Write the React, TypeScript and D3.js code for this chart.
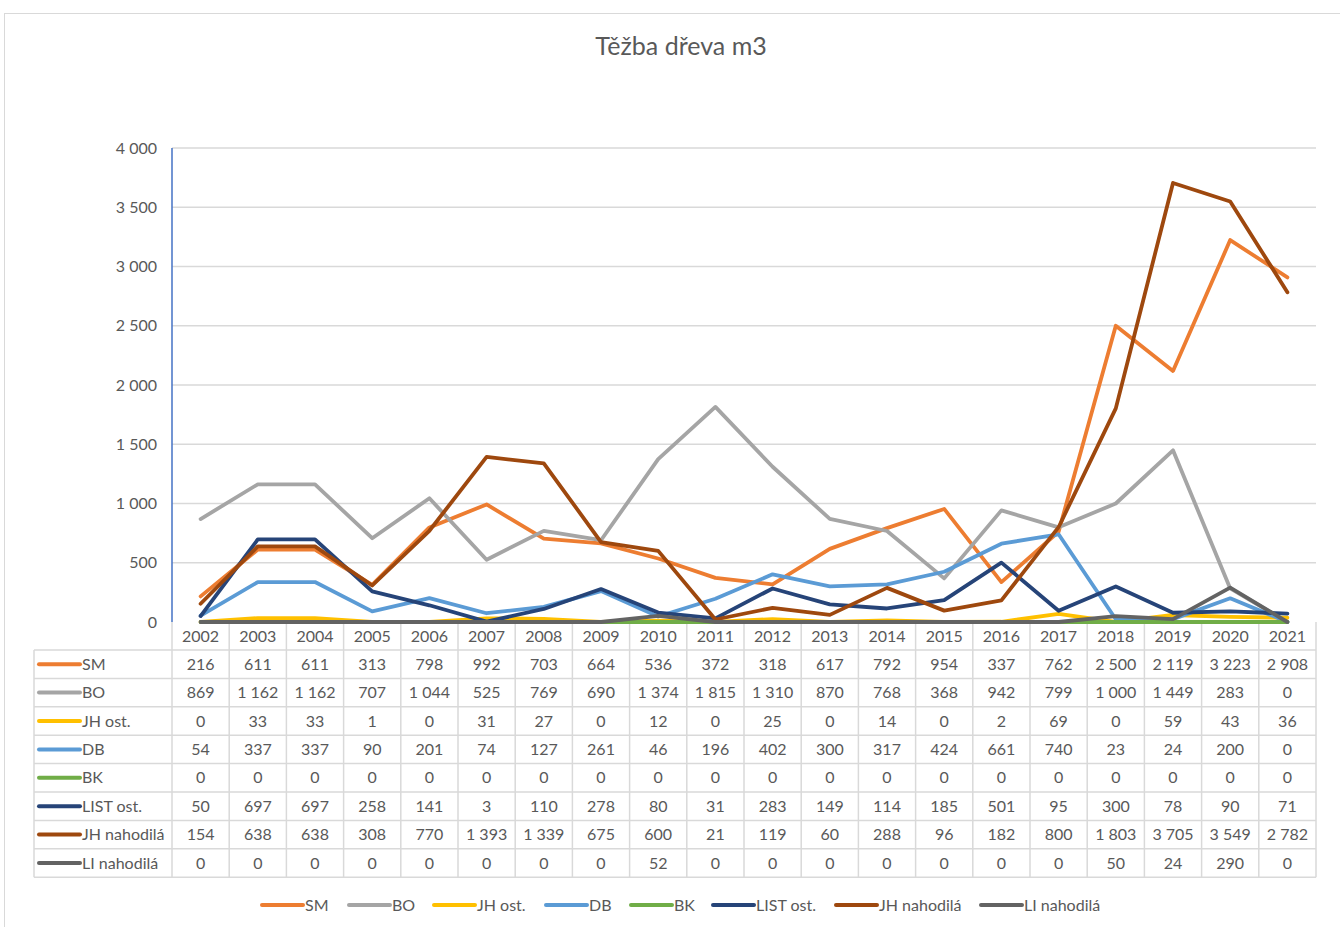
import React from "react";
import * as d3 from "d3";

const years = ["2002","2003","2004","2005","2006","2007","2008","2009","2010","2011","2012","2013","2014","2015","2016","2017","2018","2019","2020","2021"];
const SM = [216,611,611,313,798,992,703,664,536,372,318,617,792,954,337,762,2500,2119,3223,2908];
const BO = [869,1162,1162,707,1044,525,769,690,1374,1815,1310,870,768,368,942,799,1000,1449,283,0];
const JHost = [0,33,33,1,0,31,27,0,12,0,25,0,14,0,2,69,0,59,43,36];
const DB = [54,337,337,90,201,74,127,261,46,196,402,300,317,424,661,740,23,24,200,0];
const BK = [0,0,0,0,0,0,0,0,0,0,0,0,0,0,0,0,0,0,0,0];
const LISTost = [50,697,697,258,141,3,110,278,80,31,283,149,114,185,501,95,300,78,90,71];
const JHnah = [154,638,638,308,770,1393,1339,675,600,21,119,60,288,96,182,800,1803,3705,3549,2782];
const LInah = [0,0,0,0,0,0,0,0,52,0,0,0,0,0,0,0,50,24,290,0];
const yTicks = [0,500,1000,1500,2000,2500,3000,3500,4000];

const series = [
  { name: "SM", values: SM, color: "#ED7D31" },
  { name: "BO", values: BO, color: "#A5A5A5" },
  { name: "JH ost.", values: JHost, color: "#FFC000" },
  { name: "DB", values: DB, color: "#5B9BD5" },
  { name: "BK", values: BK, color: "#70AD47" },
  { name: "LIST ost.", values: LISTost, color: "#264478" },
  { name: "JH nahodilá", values: JHnah, color: "#9E480E" },
  { name: "LI nahodilá", values: LInah, color: "#636363" },
];
const legendX = [262, 349, 434, 546, 631, 713, 836, 981];

const loc = d3.formatLocale({ decimal: ",", thousands: "\u00a0", grouping: [3], currency: ["", ""] });
const fmt = loc.format(",d");

const FONT = "Lato, 'Open Sans', sans-serif";
const TXT = "#595959";

export default function App() {
  const W = 1340, H = 927;
  const x0 = 172, x1 = 1316;
  const yTop = 148, yBot = 622;
  const x = d3.scaleBand<string>().domain(years).range([x0, x1]);
  const y = d3.scaleLinear().domain([0, 4000]).range([yBot, yTop]);
  const line = (vals: number[]) =>
    d3.line<number>().x((_, i) => (x(years[i]) as number) + x.bandwidth() / 2).y((v) => y(v))(vals) as string;

  const tableLeft = 34;
  const headH = 28;
  const rowH = 28.4;
  const tableTop = yBot;
  const rowsTop = tableTop + headH;
  const tableBottom = rowsTop + rowH * series.length;
  const grid = "#D9D9D9";
  const FS = 16;

  return (
    <svg width={W} height={H} style={{ position: "absolute", left: 0, top: 0, background: "#fff" }}>
      <rect x={0} y={0} width={W} height={H} fill="#fff" />
      <rect x={4.5} y={13.5} width={W + 10} height={H} fill="none" stroke="#D9D9D9" strokeWidth={1} />
      <text x={681} y={55} textAnchor="middle" fontFamily={FONT} fontSize={25} fill={TXT}>Těžba dřeva m3</text>

      {yTicks.map((t) => (
        <g key={t}>
          {t > 0 && <line x1={x0} x2={x1} y1={y(t)} y2={y(t)} stroke={grid} strokeWidth={1.5} />}
          <text x={157} y={y(t) + 5.5} textAnchor="end" fontFamily={FONT} fontSize={FS} fill={TXT}>{fmt(t)}</text>
        </g>
      ))}
      <line x1={x0} x2={x0} y1={yTop} y2={yBot} stroke="#4472C4" strokeWidth={1.5} />

      {/* table */}
      <g>
        {d3.range(series.length + 1).map((i) => (
          <line key={"h" + i} x1={tableLeft} x2={x1} y1={rowsTop + i * rowH} y2={rowsTop + i * rowH} stroke={grid} strokeWidth={1.5} />
        ))}
        <line x1={tableLeft} x2={tableLeft} y1={rowsTop} y2={tableBottom} stroke={grid} strokeWidth={1.5} />
        {years.map((yr) => (
          <line key={"v" + yr} x1={(x(yr) as number)} x2={(x(yr) as number)} y1={tableTop} y2={tableBottom} stroke={grid} strokeWidth={1.5} />
        ))}
        <line x1={x1} x2={x1} y1={tableTop} y2={tableBottom} stroke={grid} strokeWidth={1.5} />
        {years.map((yr) => (
          <text key={"t" + yr} x={(x(yr) as number) + x.bandwidth() / 2} y={tableTop + headH / 2 + 6} textAnchor="middle" fontFamily={FONT} fontSize={FS} fill={TXT}>{yr}</text>
        ))}
        {series.map((s, r) => {
          const cy = rowsTop + r * rowH + rowH / 2;
          return (
            <g key={"r" + s.name}>
              <line x1={39} x2={80} y1={cy} y2={cy} stroke={s.color} strokeWidth={4} strokeLinecap="round" />
              <text x={82} y={cy + 5.5} fontFamily={FONT} fontSize={FS} fill={TXT}>{s.name}</text>
              {s.values.map((v, i) => (
                <text key={i} x={(x(years[i]) as number) + x.bandwidth() / 2} y={cy + 5.5} textAnchor="middle" fontFamily={FONT} fontSize={FS} fill={TXT}>{fmt(v)}</text>
              ))}
            </g>
          );
        })}
      </g>

      {/* lines */}
      {series.map((s) => (
        <path key={s.name} d={line(s.values)} fill="none" stroke={s.color} strokeWidth={3.8} strokeLinejoin="round" strokeLinecap="round" />
      ))}

      {/* legend */}
      {series.map((s, i) => (
        <g key={"l" + s.name}>
          <line x1={legendX[i]} x2={legendX[i] + 41} y1={905} y2={905} stroke={s.color} strokeWidth={4} strokeLinecap="round" />
          <text x={legendX[i] + 43} y={910.5} fontFamily={FONT} fontSize={FS} fill={TXT}>{s.name}</text>
        </g>
      ))}
    </svg>
  );
}
